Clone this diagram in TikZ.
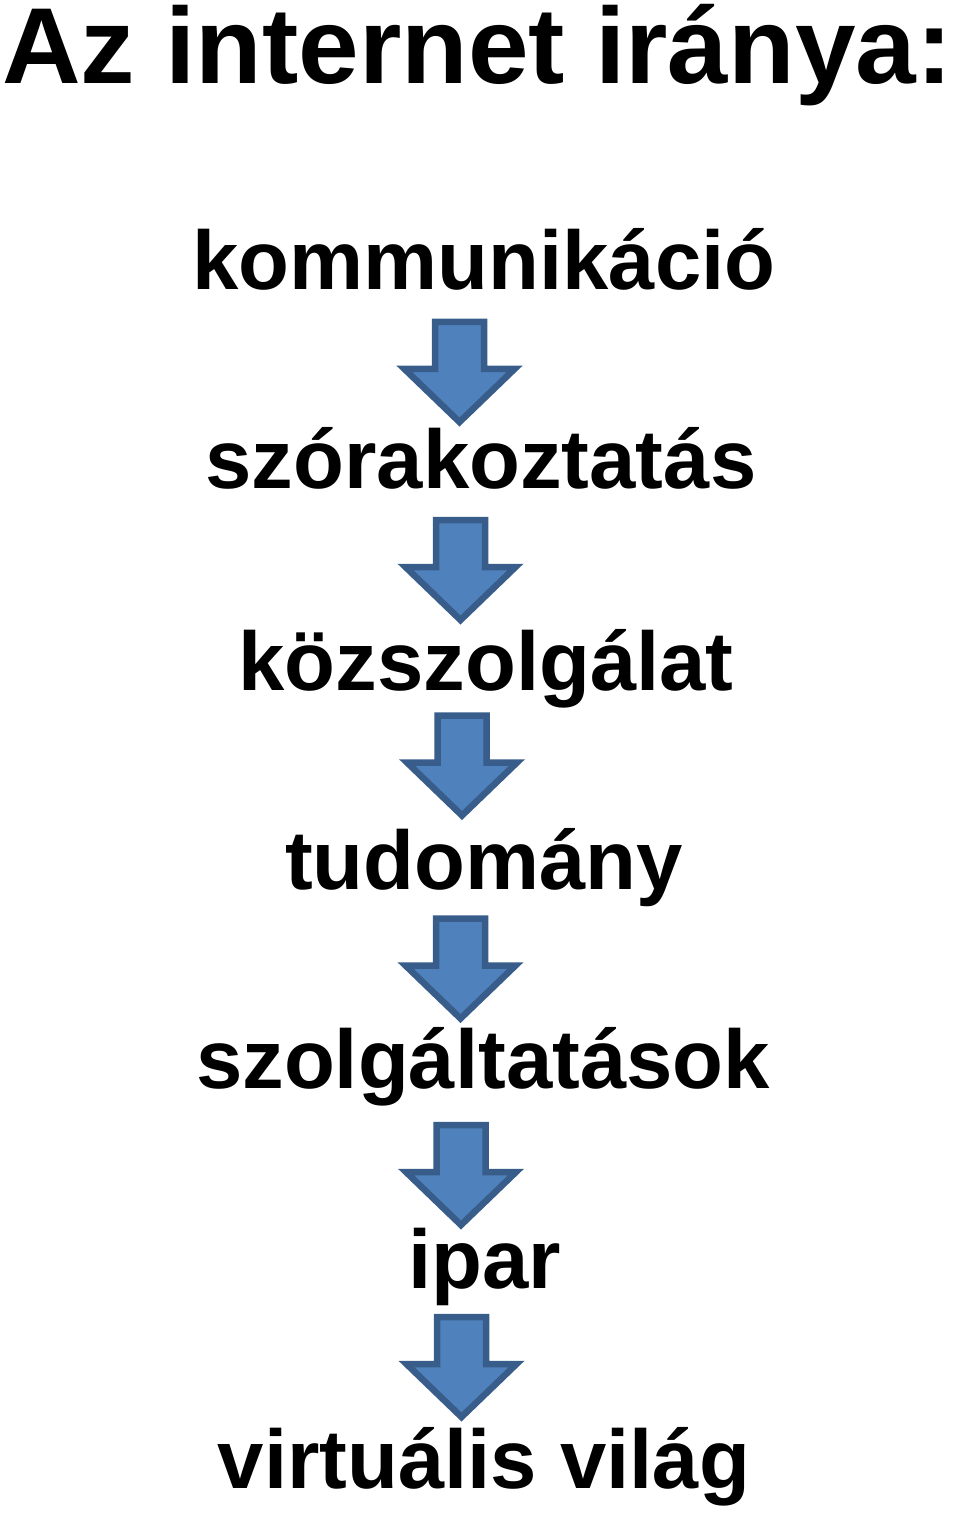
\documentclass[tikz,border=0pt]{standalone}
\usepackage{fontspec}
\setmainfont{Liberation Sans}
\usetikzlibrary{calc}
\definecolor{arrowfill}{RGB}{79,129,189}
\definecolor{arrowedge}{RGB}{56,93,138}
\tikzset{
  steptext/.style={anchor=base,inner sep=0pt,font=\fontsize{47.4}{50}\selectfont\bfseries},
  titletext/.style={anchor=base west,inner sep=0pt,text height=0.72em,xscale=1.008,font=\fontsize{61.5}{64}\selectfont\bfseries},
  arrowline/.style={fill=arrowfill,draw=arrowedge,line width=0.13cm},
  flowarrow/.pic={
    \draw[arrowline] (-24.5,0) -- (24.5,0) -- (24.5,-47) -- (55,-47) -- (0,-100) -- (-55,-47) -- (-24.5,-47) -- cycle;
  }
}
\begin{document}
\begin{tikzpicture}[x=0.02cm,y=0.02cm]
\useasboundingbox (0,0) rectangle (960,-1513);

\node[titletext] (title) at (2,-84) {Az internet iránya:};

\node[steptext] (kom) at (484,-290) {kommunikáció};
\node[steptext] (szor) at (481,-488) {szórakoztatás};
\node[steptext] (kozsz) at (486,-690) {közszolgálat};
\node[steptext] (tud) at (484,-889) {tudomány};
\node[steptext] (szolg) at (483,-1088) {szolgáltatások};
\node[steptext] (ipar) at (485,-1288) {ipar};
\node[steptext] (virt) at (484,-1488) {virtuális világ};

% block arrows between the steps
\foreach \a/\b/\dy in {kom/szor/67, szor/kozsz/69, kozsz/tud/74, tud/szolg/70, szolg/ipar/63, ipar/virt/71}
  \pic at ($(\a.base)!0.5!(\b.base)+(-23,\dy)$) {flowarrow};

\end{tikzpicture}
\end{document}
